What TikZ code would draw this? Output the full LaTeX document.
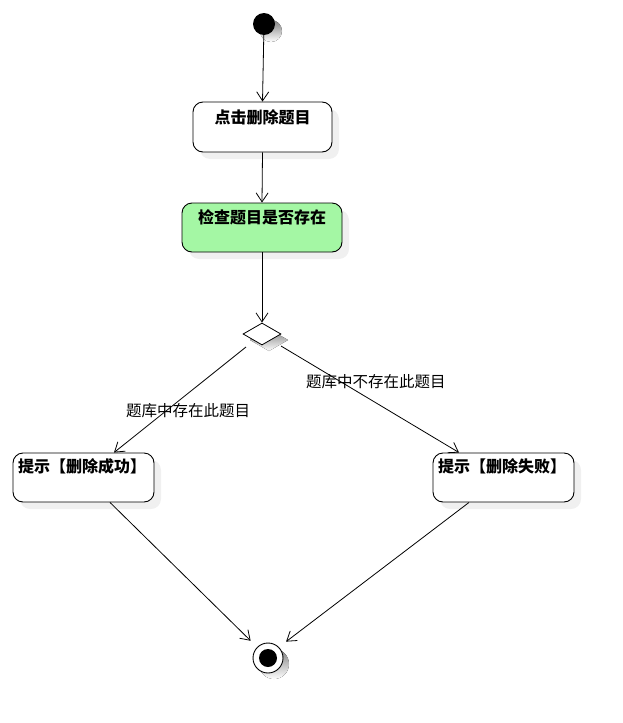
\documentclass[tikz,border=0pt]{standalone}
\usepackage{fontspec}
\setmainfont{Noto Sans CJK SC}
\usetikzlibrary{arrows.meta,shapes.geometric,calc}
\definecolor{actgreen}{HTML}{A4F7A4}
\definecolor{shade}{HTML}{F0F0F0}
\begin{document}
\begin{tikzpicture}[x=1pt,y=-1pt,
  act/.style={draw=black, line width=0.9pt, rounded corners=10pt, fill=white, minimum width=139pt, minimum height=50pt, inner sep=0pt},
  actshadow/.style={fill=shade, rounded corners=10pt, draw=none},
  btext/.style={font=\bfseries\fontsize{16}{18}\selectfont, inner sep=0pt},
  ltext/.style={font=\fontsize{15.5}{17}\selectfont, inner sep=0pt, anchor=west},
  flow/.style={draw=black, line width=0.8pt, -{Straight Barb[length=9pt,width=12pt,line width=0.8pt]}}]
\useasboundingbox (0,0) rectangle (623,723);
% start
\fill[shade] (271,31) circle (11);
\node[circle, fill=black, minimum size=22pt, inner sep=0pt] (start) at (264,24) {};
% box1
\fill[actshadow] (200,109) rectangle (339,159);
\node[act, minimum width=139pt] (b1) at (262.5,127) {};
\node[btext] (t1) at (262.5,117) {点击删除题目};
% box2
\fill[actshadow] (189,210) rectangle (349,259);
\node[act, fill=actgreen, minimum width=160pt, minimum height=49pt] (b2) at (262,227.5) {};
\node[btext] (t2) at (262,217) {检查题目是否存在};
% diamond
\fill[shade] (269,329) -- (288,340) -- (269,351) -- (250,340) -- cycle;
\node[diamond, draw=black, line width=0.8pt, fill=white, minimum width=38pt, minimum height=22pt, inner sep=0pt, aspect=1.7] (dia) at (262,334) {};
% box3
\fill[actshadow] (20,460) rectangle (161,509);
\node[act, minimum width=141pt, minimum height=49pt] (b3) at (83.5,477.5) {};
\node[btext, anchor=west] (t3) at (18,466) {提示【删除成功】};
% box4
\fill[actshadow] (440,460) rectangle (581,509);
\node[act, minimum width=141pt, minimum height=49pt] (b4) at (503.5,477.5) {};
\node[btext, anchor=west] (t4) at (438,466) {提示【删除失败】};
% end
\fill[shade] (274,664) circle (15);
\node[circle, draw=black, line width=0.9pt, fill=white, minimum size=30pt, inner sep=0pt] (end) at (268,658) {};
\node[circle, fill=black, minimum size=18pt, inner sep=0pt] (endin) at (268,658) {};
% connectors
\coordinate (d1) at (246,347);
\coordinate (d2) at (281,346);
\draw[flow] (start) -- (b1.north);
\draw[flow] (b1.south) -- (b2.north);
\draw[flow] (b2.south) -- (dia.north);
\draw[flow] (d1) -- ([xshift=30.5pt]b3.north);
\draw[flow] (d2) -- ([xshift=-44.5pt]b4.north);
\draw[flow, shorten >=9pt] ([xshift=26.5pt]b3.south) -- (end.north west);
\draw[flow, shorten >=9pt] ([xshift=-34.5pt]b4.south) -- (end.north east);
% labels
\node[ltext] (l1) at (126,411) {题库中存在此题目};
\node[ltext] (l2) at (306,382) {题库中不存在此题目};
\end{tikzpicture}
\end{document}
